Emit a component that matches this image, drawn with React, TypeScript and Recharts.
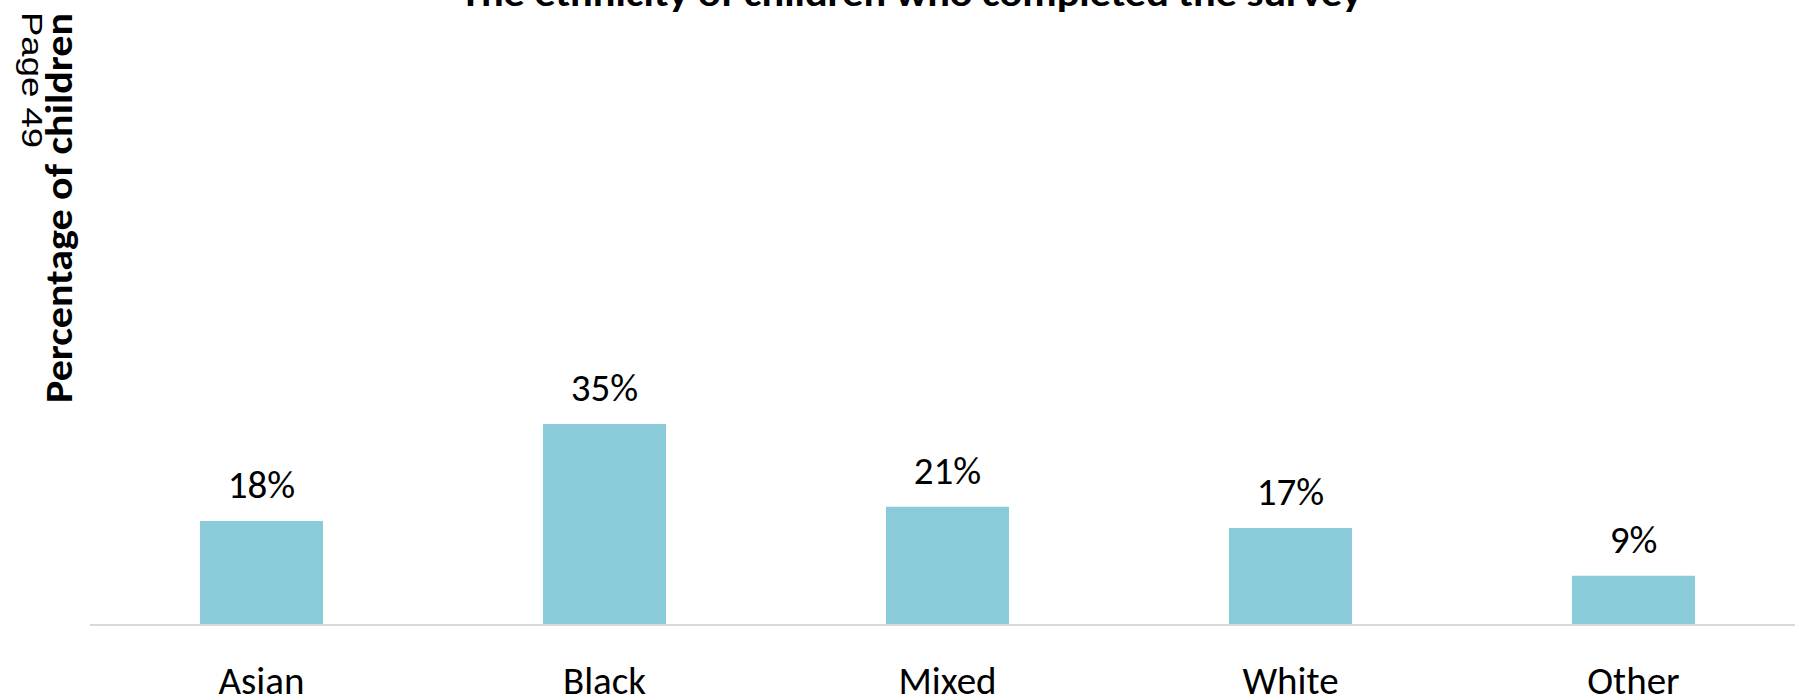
import { BarChart, Bar, XAxis, YAxis, LabelList } from "recharts";

const ethnicities = ["Asian", "Black", "Mixed", "White", "Other"];
const percentages = [18.1, 35.0, 20.6, 16.9, 8.6];

const chartData = ethnicities.map((name, i) => ({ name, pct: percentages[i] }));

const calibriLike = "Carlito, Calibri, Lato, sans-serif";

export default function App() {
  return (
    <div
      style={{
        position: "absolute",
        left: 0,
        top: 0,
        width: 1795,
        height: 697,
        overflow: "hidden",
        background: "#fff",
      }}
    >
      <BarChart
        width={1805}
        height={697}
        data={chartData}
        margin={{ top: 51, right: 0, left: 90, bottom: 0 }}
      >
        <XAxis
          dataKey="name"
          height={72}
          interval={0}
          tickSize={0}
          tickMargin={41}
          axisLine={{ stroke: "#d9d9d9", strokeWidth: 2 }}
          tick={{ fontSize: 39, fill: "#000", fontFamily: calibriLike }}
        />
        <YAxis hide domain={[0, 100]} />
        <Bar dataKey="pct" fill="#89cbd8" barSize={123} isAnimationActive={false}>
          <LabelList
            dataKey="pct"
            position="top"
            offset={23}
            formatter={(v: any) => `${Math.round(Number(v))}%`}
            style={{ fontSize: 39, fill: "#000", fontFamily: calibriLike }}
          />
        </Bar>
      </BarChart>

      {/* title, axis title and page stamp */}
      <svg
        width={1795}
        height={697}
        style={{ position: "absolute", left: 0, top: 0, pointerEvents: "none" }}
      >
        <text
          x={911}
          y={6}
          textAnchor="middle"
          fontFamily={calibriLike}
          fontWeight="bold"
          fontSize={36}
          textLength={902}
          lengthAdjust="spacingAndGlyphs"
        >
          The ethnicity of children who completed the survey
        </text>
        <text
          transform="translate(72,208) rotate(-90)"
          textAnchor="middle"
          fontFamily={calibriLike}
          fontWeight="bold"
          fontSize={38}
          textLength={390}
          lengthAdjust="spacingAndGlyphs"
        >
          Percentage of children
        </text>
        <text
          transform="translate(22,80) rotate(90)"
          textAnchor="middle"
          fontFamily="'Liberation Sans', Arial, sans-serif"
          fontSize={30}
          textLength={136}
          lengthAdjust="spacingAndGlyphs"
        >
          Page 49
        </text>
      </svg>
    </div>
  );
}
